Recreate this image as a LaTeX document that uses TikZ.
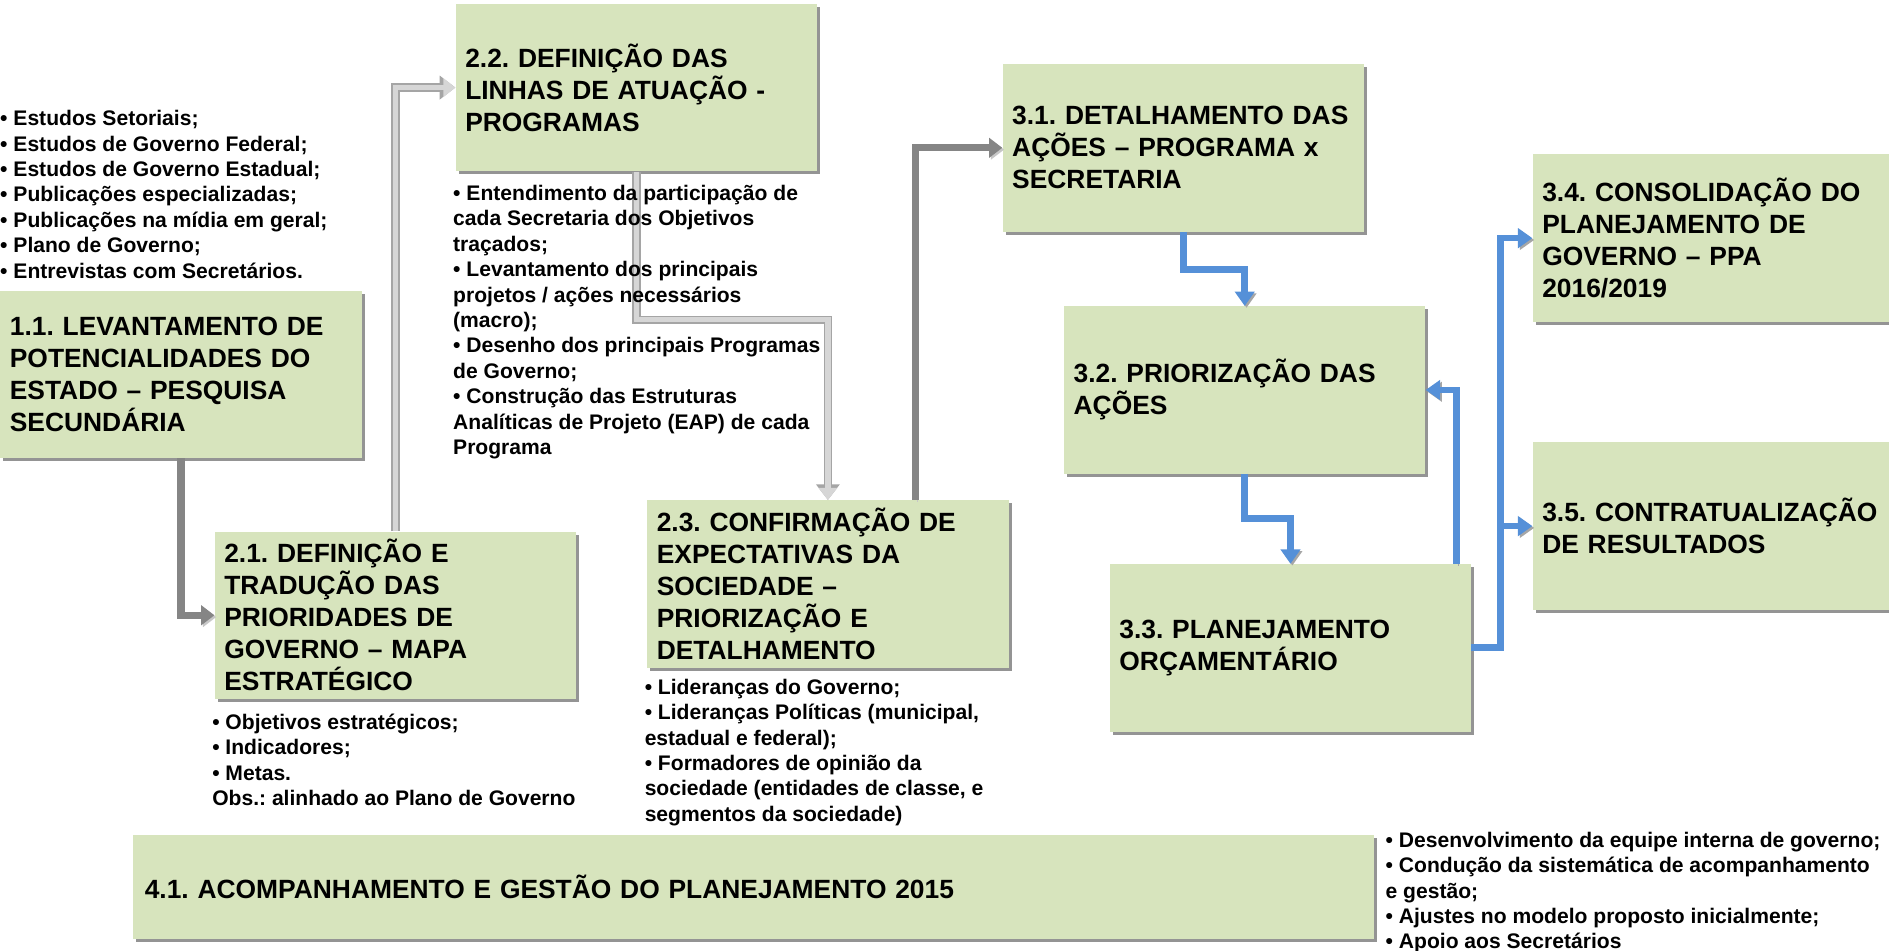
\documentclass[tikz,border=0pt]{standalone}
\usepackage{fontspec}
\setmainfont{Liberation Sans}
\usetikzlibrary{arrows.meta,shadows}
\definecolor{boxgreen}{HTML}{D7E4BD}
\definecolor{arrowgray}{HTML}{858585}
\definecolor{lightfill}{HTML}{D6D6D6}
\definecolor{lightedge}{HTML}{A5A5A5}
\definecolor{arrowblue}{HTML}{5590D8}
\frenchspacing

\begin{document}
\begin{tikzpicture}[x=1bp,y=-1bp,
    box/.style={fill=boxgreen, anchor=north west, minimum width=300bp, minimum height=139bp,
      text width=284bp, inner xsep=8bp, align=left,
      font=\bfseries\fontsize{21.9bp}{26.6bp}\selectfont,
      drop shadow={shadow xshift=2.5bp, shadow yshift=-2.5bp, fill=black!42, opacity=1}},
    list/.style={anchor=north west, inner sep=0pt, align=left,
      font=\bfseries\fontsize{17.5bp}{21.1bp}\selectfont},
    darka/.style={draw=arrowgray, line width=6bp, -{Triangle[width=16bp,length=11bp]},
      preaction={draw=black!22, transform canvas={shift={(1.5bp,-1.5bp)}}}},
    lighta/.style={draw=lightfill, line width=4.5bp, -{Triangle[width=15bp,length=10bp]},
      preaction={draw=lightedge, line width=7bp, -{Triangle[width=19bp,length=13bp]}}},
    bluea/.style={draw=arrowblue, line width=5.5bp, -{Triangle[width=16bp,length=12bp]},
      preaction={draw=black!35, transform canvas={shift={(1.5bp,-1.5bp)}}}}]

    \useasboundingbox (0,0) rectangle (1568,789);

    \node[box] (b11) at (0,241) {1.1. LEVANTAMENTO DE\\POTENCIALIDADES DO\\ESTADO -- PESQUISA\\SECUNDÁRIA};
    \node[box] (b22) at (378,3) {2.2. DEFINIÇÃO DAS\\LINHAS DE ATUAÇÃO -\\PROGRAMAS};
    \node[box] (b21) at (178,441) {2.1. DEFINIÇÃO E\\TRADUÇÃO DAS\\PRIORIDADES DE\\GOVERNO -- MAPA\\ESTRATÉGICO};
    \node[box] (b23) at (537,415) {2.3. CONFIRMAÇÃO DE\\EXPECTATIVAS DA\\SOCIEDADE --\\PRIORIZAÇÃO E\\DETALHAMENTO};
    \node[box] (b31) at (832,53) {3.1. DETALHAMENTO DAS\\AÇÕES -- PROGRAMA x\\SECRETARIA};
    \node[box] (b32) at (883,254) {3.2. PRIORIZAÇÃO DAS\\AÇÕES};
    \node[box] (b33) at (921,468) {3.3. PLANEJAMENTO\\ORÇAMENTÁRIO};
    \node[box] (b34) at (1272,128) {3.4. CONSOLIDAÇÃO DO\\PLANEJAMENTO DE\\GOVERNO -- PPA\\2016/2019};
    \node[box] (b35) at (1272,367) {3.5. CONTRATUALIZAÇÃO\\DE RESULTADOS};
    \node[box, minimum width=1030bp, minimum height=86bp, text width=1010bp, inner xsep=10bp]
      (b41) at (110,693) {4.1. ACOMPANHAMENTO E GESTÃO DO PLANEJAMENTO 2015};

    \draw[darka] (b11.south) |- (b21.west);
    \draw[lighta] (b21.north) |- (b22.west);
    \draw[lighta] (b22.south) -- ++(0,123) -| (b23.north);
    \draw[darka] ([xshift=72.5bp]b23.north) |- (b31.west);
    \draw[bluea] (b31.south) -- ++(0,31.5) -| (b32.north);
    \draw[bluea] (b32.south) -- ++(0,37) -| (b33.north);
    \draw[bluea] ([xshift=138bp]b33.north) |- (b32.east);
    \draw[bluea] (b33.east) -- ++(24,0) |- (b34.west);
    \draw[bluea] (b33.east) -- ++(24,0) |- (b35.west);

    \node[list] (l11) at (0,91.4) {• Estudos Setoriais;\\• Estudos de Governo Federal;\\• Estudos de Governo Estadual;\\• Publicações especializadas;\\• Publicações na mídia em geral;\\• Plano de Governo;\\• Entrevistas com Secretários.};
    \node[list] (l22) at (376,153.4) {• Entendimento da participação de\\cada Secretaria dos Objetivos\\traçados;\\• Levantamento dos principais\\projetos / ações necessários\\(macro);\\• Desenho dos principais Programas\\de Governo;\\• Construção das Estruturas\\Analíticas de Projeto (EAP) de cada\\Programa};
    \node[list] (l21) at (176,592.4) {• Objetivos estratégicos;\\• Indicadores;\\• Metas.\\Obs.: alinhado ao Plano de Governo};
    \node[list] (l23) at (535,563.4) {• Lideranças do Governo;\\• Lideranças Políticas (municipal,\\estadual e federal);\\• Formadores de opinião da\\sociedade (entidades de classe, e\\segmentos da sociedade)};
    \node[list] (l41) at (1150,690.4) {• Desenvolvimento da equipe interna de governo;\\• Condução da sistemática de acompanhamento\\e gestão;\\• Ajustes no modelo proposto inicialmente;\\• Apoio aos Secretários};

  \end{tikzpicture}
\end{document}
